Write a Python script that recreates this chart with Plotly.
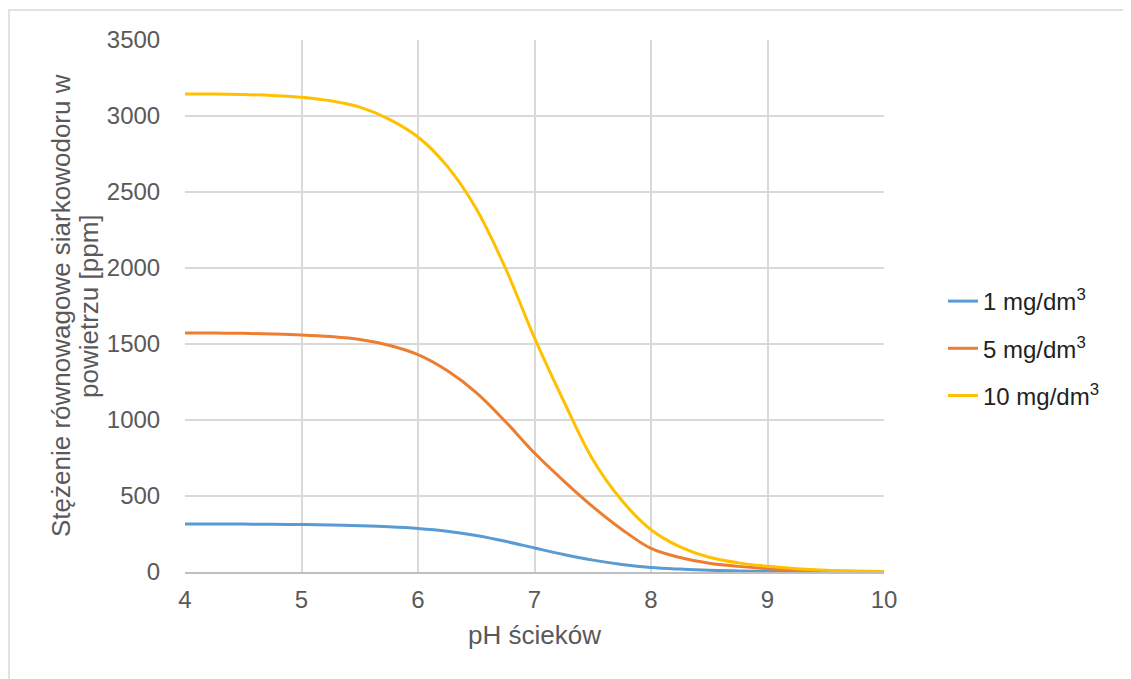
import plotly.graph_objects as go

ph = [4, 4.25, 4.5, 4.75, 5, 5.25, 5.5, 5.75, 6, 6.25, 6.5, 6.75, 7,
      7.25, 7.5, 7.75, 8, 8.25, 8.5, 8.75, 9, 9.25, 9.5, 9.75, 10]
c1 = [316, 316, 315, 314, 312, 309, 304, 297, 286, 268, 240, 202, 158,
      115, 78, 50, 30, 19, 11, 7, 4, 2.5, 1.5, 0.8, 0.4]
c5 = [1572, 1572, 1570, 1566, 1560, 1549, 1530, 1492, 1430, 1325, 1180, 990, 783,
      600, 430, 280, 155, 95, 58, 37, 22, 12, 6, 3, 1.5]
c10 = [3145, 3144, 3141, 3135, 3124, 3100, 3058, 2980, 2862, 2670, 2390, 2000, 1540,
       1125, 740, 470, 278, 165, 97, 60, 38, 22, 12, 7, 3]
names = ["1 mg/dm<sup>3</sup>", "5 mg/dm<sup>3</sup>", "10 mg/dm<sup>3</sup>"]
colors = ["#5b9bd5", "#ed7d31", "#ffc000"]
ytitle_lines = ["Stężenie równowagowe siarkowodoru w", "powietrzu [ppm]"]

fig = go.Figure()
for i, (y, n, c) in enumerate(zip([c1, c5, c10], names, colors)):
    fig.add_trace(go.Scatter(x=ph, y=y, name=n, mode="lines", legendgroup=f"g{i}",
                             line=dict(color=c, width=3, shape="spline", smoothing=1.0)))

# page body has an 8px offset
L, T = 177, 32
pw, ph_ = 699, 532
W, H = 1123, 671
R = W - L - pw
B = H - T - ph_
bottom = T + ph_

def px_x(p):
    return (p - L) / pw

def px_y(p):
    return (bottom - p) / ph_

fig.add_shape(type="rect", xref="paper", yref="paper",
              x0=px_x(1), x1=px_x(1140), y0=px_y(700), y1=px_y(2),
              line=dict(color="#d9d9d9", width=1.5), fillcolor="rgba(0,0,0,0)", layer="below")

for txt, xc in zip(ytitle_lines, [53, 81]):
    fig.add_annotation(text=txt, xref="paper", yref="paper", x=px_x(xc), y=0.5,
                       xanchor="center", yanchor="middle", textangle=-90, showarrow=False,
                       font=dict(size=26, color="#595959"))

fig.update_layout(
    width=W, height=H,
    margin=dict(l=L, r=R, t=T, b=B),
    plot_bgcolor="white", paper_bgcolor="white",
    font=dict(family="Liberation Sans, Arial, sans-serif", size=24, color="#595959"),
    xaxis=dict(range=[4, 10], dtick=1, showgrid=True, gridcolor="#d9d9d9", gridwidth=1.5,
               zeroline=False, showline=True, linecolor="#bfbfbf", linewidth=1.5,
               ticks="outside", ticklen=5, tickcolor="rgba(0,0,0,0)",
               title=dict(text="pH ścieków", standoff=14, font=dict(size=26))),
    yaxis=dict(range=[0, 3500], dtick=500, showgrid=True, gridcolor="#d9d9d9", gridwidth=1.5,
               zeroline=False, showline=False,
               ticks="outside", ticklen=19, tickcolor="rgba(0,0,0,0)"),
    legend=dict(x=px_x(935), y=px_y(271), xanchor="left", yanchor="top",
                font=dict(size=24, color="#222222"), tracegroupgap=13,
                bgcolor="rgba(0,0,0,0)"),
    showlegend=True,
)
fig.write_html("out.html")
